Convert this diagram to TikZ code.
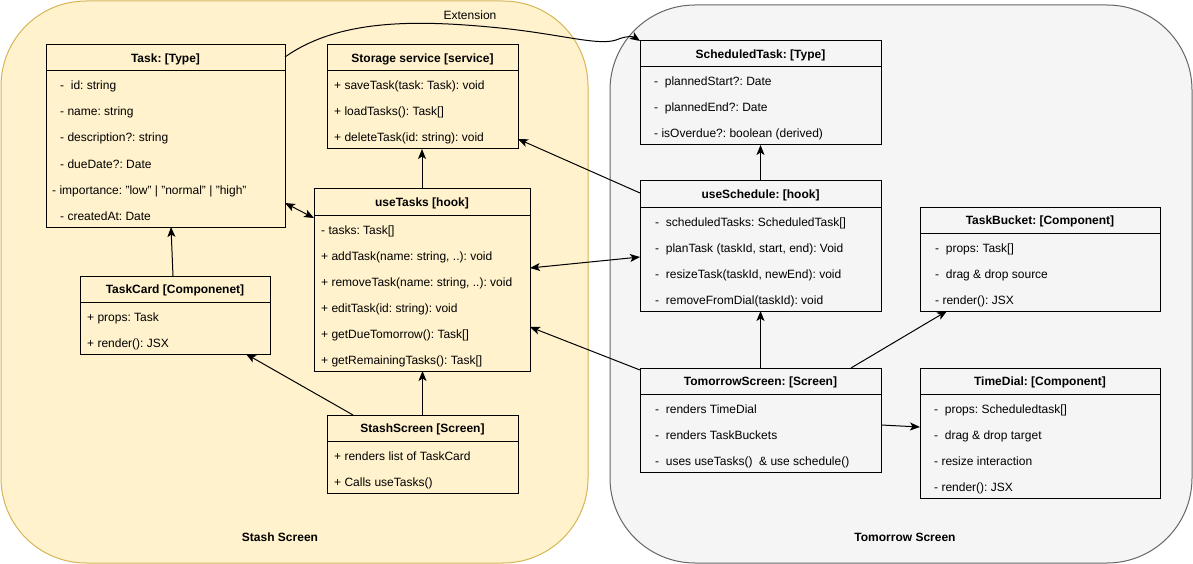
\documentclass[tikz,border=0pt]{standalone}
\usepackage{fontspec}
\setmainfont{Liberation Sans}
\usetikzlibrary{arrows.meta,calc}
\frenchspacing
\definecolor{yfill}{HTML}{FFF2CC}
\definecolor{ydraw}{HTML}{D6B656}
\definecolor{gfill}{HTML}{F5F5F5}
\definecolor{gdraw}{HTML}{666666}
\tikzset{
  container/.style={anchor=north west, inner sep=0pt, outer sep=0pt, line width=1pt, rounded corners=85pt},
  classbox/.style={draw=black, anchor=north west, inner sep=0pt, outer sep=0pt, line width=1pt},
  headtxt/.style={anchor=base, inner sep=0pt, font=\fontsize{12pt}{14pt}\selectfont\bfseries\frenchspacing},
  rowtxt/.style={anchor=base west, inner sep=0pt, font=\fontsize{12pt}{14pt}\selectfont\frenchspacing},
  conn/.style={line width=1pt, draw=black, -{Stealth[length=10pt,width=8pt,inset=2.5pt]}},
  biconn/.style={line width=1pt, draw=black, {Stealth[length=10pt,width=8pt,inset=2.5pt]}-{Stealth[length=10pt,width=8pt,inset=2.5pt]}},
}
\newcommand\umlbox[6]{%
  \node[classbox, minimum width=#4pt, minimum height=#5pt] (#1) at (#2,#3) {};
  \draw[line width=1pt] ([yshift=-26pt]#1.north west) -- ([yshift=-26pt]#1.north east);
  \node[headtxt] (#1head) at ([yshift=-17.5pt]#1.north) {#6};
}
\newcommand\umlrows[4]{%
  \foreach \t [count=\i] in {#4} {\node[rowtxt] (#1r\i) at (#2,{#3+26*(\i-1)}) {\t};}
}
\begin{document}
\begin{tikzpicture}[x=1pt,y=-1pt]
\useasboundingbox (0,0) rectangle (1193,564);
% containers
\node[container, draw=ydraw, fill=yfill, minimum width=587pt, minimum height=562pt] (stashc) at (1,1) {};
\node[container, draw=gdraw, fill=gfill, minimum width=582pt, minimum height=558pt] (tomc) at (610,5) {};
\node[headtxt] (stashlbl) at (280,541.5) {Stash Screen};
\node[headtxt] (tomlbl) at (905,541.5) {Tomorrow Screen};

% class boxes
\umlbox{task}{46}{45}{239}{182}{Task: [Type]}
\umlrows{task}{60}{90}{-~~id: string, - name: string, - description?: string, - dueDate?: Date, \hspace*{-8pt}- importance: "low" | "normal" | "high", - createdAt: Date}

\umlbox{storage}{327}{45}{191}{104}{Storage service [service]}
\umlrows{storage}{334}{90}{+ saveTask(task: Task): void, + loadTasks(): Task[], + deleteTask(id: string): void}

\umlbox{usetasks}{314}{189}{216}{182}{useTasks [hook]}
\umlrows{usetasks}{321}{234}{- tasks: Task[], {+ addTask(name: string, ..): void}, {+ removeTask(name: string, ..): void}, + editTask(id: string): void, + getDueTomorrow(): Task[], + getRemainingTasks(): Task[]}

\umlbox{taskcard}{80}{276}{190}{78}{TaskCard [Componenet]}
\umlrows{taskcard}{87}{321}{+ props: Task, + render(): JSX}

\umlbox{stash}{327}{415}{191}{78}{StashScreen [Screen]}
\umlrows{stash}{334}{460}{+ renders list of TaskCard, + Calls useTasks()}

\umlbox{sched}{640}{41}{241}{104}{ScheduledTask: [Type]}
\umlrows{sched}{654}{86}{-~~plannedStart?: Date, -~~plannedEnd?: Date, - isOverdue?: boolean (derived)}

\umlbox{usesched}{640}{181}{241}{130}{useSchedule: [hook]}
\umlrows{usesched}{655}{226}{-~~scheduledTasks: ScheduledTask[], {-~~planTask (taskId, start, end): Void}, {-~~resizeTask(taskId, newEnd): void}, -~~removeFromDial(taskId): void}

\umlbox{bucket}{920}{207}{240}{104}{TaskBucket: [Component]}
\umlrows{bucket}{935}{252}{-~~props: Task[], -~~drag \& drop source, - render(): JSX}

\umlbox{tomorrow}{640}{368}{241}{104}{TomorrowScreen: [Screen]}
\umlrows{tomorrow}{655}{413}{-~~renders TimeDial, -~~renders TaskBuckets, -~~uses useTasks()~~\& use schedule()}

\umlbox{timedial}{920}{368}{240}{130}{TimeDial: [Component]}
\umlrows{timedial}{934}{413}{-~~props: Scheduledtask[], -~~drag \& drop target, - resize interaction, - render(): JSX}

% connectors
\draw[biconn] ([yshift=-67pt]task.east) -- ([yshift=62pt]usetasks.west);
\draw[conn] ([xshift=-2pt]taskcard.north) -- ([xshift=5.5pt]task.south);
\draw[conn] ([xshift=26pt]stash.north west) -- ([xshift=-24pt]taskcard.south east);
\draw[conn] (stash.north) -- (stash.north |- usetasks.south);
\draw[conn] (usetasks.north) -- (usetasks.north |- storage.south);
\draw[conn] ([yshift=-12pt]usesched.north west) -- ([yshift=-42pt]storage.east);
\draw[biconn] ([yshift=12pt]usetasks.east) -- ([yshift=-11pt]usesched.west);
\draw[conn] ([yshift=-2pt]tomorrow.north west) -- ([yshift=-47pt]usetasks.east);
\draw[conn] (usesched.north) -- (sched.south);
\draw[conn] (tomorrow.north) -- (usesched.south);
\draw[conn] ([xshift=-30pt]tomorrow.north east) -- ([xshift=27pt]bucket.south west);
\draw[conn] ([yshift=-5pt]tomorrow.east) -- ([yshift=6pt]timedial.west);
\draw[conn] ([yshift=-12pt]task.north east) .. controls (340,18) and (420,20) .. (500,28)
  .. controls (560,34) and (598,46) .. (616,40) .. controls (628,35) and (634,37) .. (sched.north west);
\node[rowtxt, anchor=base] (extlbl) at (470,20) {Extension};
\end{tikzpicture}
\end{document}
